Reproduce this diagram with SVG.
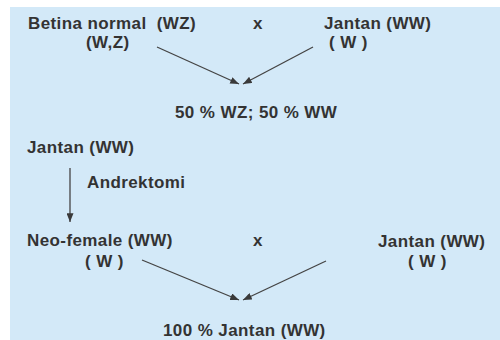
<svg xmlns="http://www.w3.org/2000/svg" width="500" height="340" viewBox="0 0 500 340">
  <defs>
    <marker id="head" viewBox="0 0 10 8" refX="10" refY="4" markerWidth="9" markerHeight="7" markerUnits="userSpaceOnUse" orient="auto">
      <path d="M0,0 L10,4 L0,8 Z" fill="#3a3a3a"/>
    </marker>
  </defs>
  <style>
    .t { font-family: "Liberation Sans", Arial, sans-serif; font-weight: bold; font-size: 17px; letter-spacing: 0.4px; fill: #333333; white-space: pre; }
    .c { stroke: #444444; stroke-width: 1.3; fill: none; marker-end: url(#head); }
  </style>

  <!-- page -->
  <rect x="0" y="0" width="500" height="340" fill="#ffffff"/>
  <rect x="10" y="7" width="490" height="333" fill="#d3e9f8"/>

  <!-- first cross -->
  <g id="betina-normal">
    <text class="t" x="28" y="29" xml:space="preserve">Betina normal  (WZ)</text>
    <text class="t" x="86" y="48">(W,Z)</text>
  </g>
  <g id="cross-1">
    <text class="t" x="253" y="29">x</text>
  </g>
  <g id="jantan-1">
    <text class="t" x="324" y="29">Jantan (WW)</text>
    <text class="t" x="329" y="48">( W )</text>
  </g>
  <g id="result-1">
    <text class="t" x="175" y="118">50 % WZ; 50 % WW</text>
  </g>

  <!-- andrectomy -->
  <g id="jantan-2">
    <text class="t" x="27" y="153">Jantan (WW)</text>
  </g>
  <g id="andrektomi">
    <text class="t" x="87" y="188">Andrektomi</text>
  </g>

  <!-- second cross -->
  <g id="neo-female">
    <text class="t" x="27" y="246">Neo-female (WW)</text>
    <text class="t" x="85" y="267">( W )</text>
  </g>
  <g id="cross-2">
    <text class="t" x="253" y="246">x</text>
  </g>
  <g id="jantan-3">
    <text class="t" x="378" y="247">Jantan (WW)</text>
    <text class="t" x="408" y="267">( W )</text>
  </g>
  <g id="result-2">
    <text class="t" x="163" y="336">100 % Jantan (WW)</text>
  </g>

  <!-- connectors -->
  <g id="connectors">
    <line class="c" x1="157" y1="47" x2="239" y2="84"/>
    <line class="c" x1="313" y1="47" x2="243" y2="84"/>
    <line class="c" x1="70" y1="168" x2="70" y2="222"/>
    <line class="c" x1="142" y1="260" x2="239" y2="300"/>
    <line class="c" x1="326" y1="261" x2="243" y2="300"/>
  </g>
</svg>
